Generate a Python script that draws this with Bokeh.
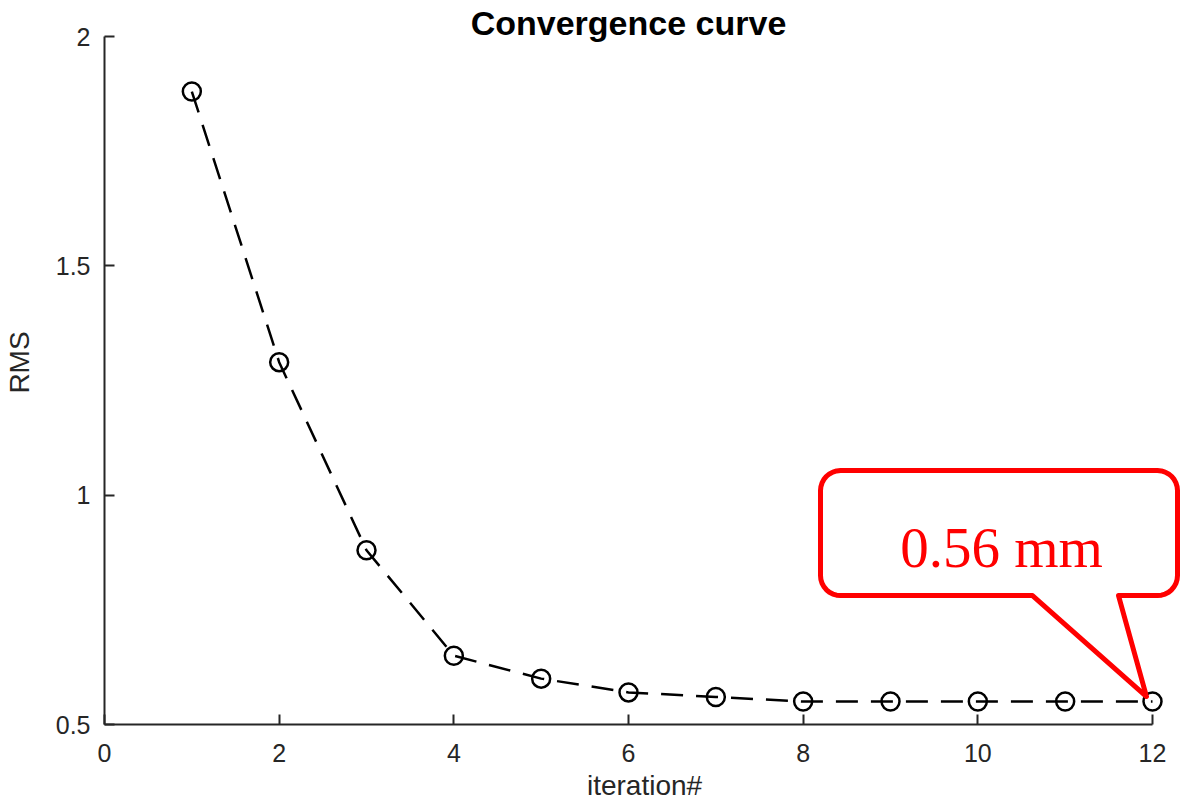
import math
from bokeh.plotting import figure
from bokeh.models import Range1d, FixedTicker, Label, PolyAnnotation
from bokeh.embed import file_html
from bokeh.resources import INLINE

# ---- data ----
iterations = [1, 2, 3, 4, 5, 6, 7, 8, 9, 10, 11, 12]
rms = [1.88, 1.29, 0.88, 0.65, 0.60, 0.57, 0.56, 0.55, 0.55, 0.55, 0.55, 0.55]
x_ticks = [0, 2, 4, 6, 8, 10, 12]
y_ticks = [0.5, 1, 1.5, 2]
y_tick_labels = ["0.5", "1", "1.5", "2"]
title_text = "Convergence curve"
x_label = "iteration#"
y_label = "RMS"
callout_text = "0.56 mm"

X_MIN, X_MAX = 0, 12
Y_MIN, Y_MAX = 0.5, 2

# ---- layout (pixels) ----
W, H = 1184, 804
BL, BB = 104, 80
AXIS_W = 1048          # pixel length of the 0..12 axis
AXIS_H = 688           # pixel length of the 0.5..2 axis
FW = W - BL            # frame reaches the right edge
FH = H - BB            # frame reaches the top edge
px_x = (X_MAX - X_MIN) / AXIS_W
px_y = (Y_MAX - Y_MIN) / AXIS_H

p = figure(width=W, height=H, output_backend="svg", toolbar_location=None,
           x_range=Range1d(X_MIN, X_MIN + FW * px_x),
           y_range=Range1d(Y_MIN, Y_MIN + FH * px_y),
           min_border_left=BL, min_border_right=0,
           min_border_top=0, min_border_bottom=BB)
p.outline_line_color = None
p.grid.visible = False
p.background_fill_color = "white"
p.border_fill_color = "white"

AX = "#262626"
for ax in (p.xaxis[0], p.yaxis[0]):
    ax.axis_line_color = AX
    ax.axis_line_width = 2
    ax.major_tick_line_color = AX
    ax.major_tick_line_width = 2
    ax.major_tick_in = 10
    ax.major_tick_out = 0
    ax.minor_tick_line_color = None
    ax.major_label_text_font = "Liberation Sans"
    ax.major_label_text_font_size = "25px"
    ax.major_label_text_color = AX
    ax.axis_label_text_font = "Liberation Sans"
    ax.axis_label_text_font_size = "28px"
    ax.axis_label_text_font_style = "normal"
    ax.axis_label_text_color = AX

p.xaxis.bounds = (X_MIN, X_MAX)
p.yaxis.bounds = (Y_MIN, Y_MAX)
p.xaxis.ticker = FixedTicker(ticks=x_ticks)
p.yaxis.ticker = FixedTicker(ticks=y_ticks)
p.yaxis.major_label_overrides = dict(zip(y_ticks, y_tick_labels))
p.xaxis.axis_label = x_label
p.yaxis.axis_label = y_label
p.xaxis.major_label_standoff = 19
p.yaxis.major_label_standoff = 14
p.xaxis.axis_label_standoff = 5
p.yaxis.axis_label_standoff = 18

# ---- series ----
p.line(iterations, rms, line_color="black", line_width=2.5, line_dash="22 13")
p.scatter(iterations, rms, marker="circle", size=18, fill_alpha=0,
          line_color="black", line_width=2.5)

def dx_px(d):
    return d * px_x

def dy_px(d):  # d positive downward on screen
    return -d * px_y

# title
p.add_layout(Label(x=(X_MIN + X_MAX) / 2, y=Y_MAX + dy_px(-14), text=title_text,
                   text_font="Liberation Sans", text_font_size="34px",
                   text_font_style="bold", text_color="black",
                   text_align="center", text_baseline="middle"))

# ---- callout anchored at the last point ----
ax0, ay0 = iterations[-1], rms[-1]
left, right, top, bottom, r = -332, 25, -231, -106, 20
tail_l, tail_r, tip = -120, -34, (-6, -5)

pts = []
def arc(cx, cy, a0, a1, n=8):
    for i in range(n + 1):
        t = math.radians(a0 + (a1 - a0) * i / n)
        pts.append((cx + r * math.cos(t), cy + r * math.sin(t)))

arc(right - r, top + r, -90, 0)
arc(right - r, bottom - r, 0, 90)
pts.append((tail_r, bottom))
pts.append(tip)
pts.append((tail_l, bottom))
arc(left + r, bottom - r, 90, 180)
arc(left + r, top + r, 180, 270)

xs = [ax0 + dx_px(a) for a, b in pts]
ys = [ay0 + dy_px(b) for a, b in pts]
p.add_layout(PolyAnnotation(xs=xs, ys=ys, fill_color="white", fill_alpha=1.0,
                            line_color="#FF0000", line_alpha=1.0, line_width=5,
                            line_join="round"))

p.add_layout(Label(x=ax0 + dx_px(-151), y=ay0 + dy_px(-154), text=callout_text,
                   text_font="Liberation Serif", text_font_size="57px",
                   text_color="#FF0000", text_align="center",
                   text_baseline="middle"))

open("out.html", "w").write(file_html(p, INLINE))
